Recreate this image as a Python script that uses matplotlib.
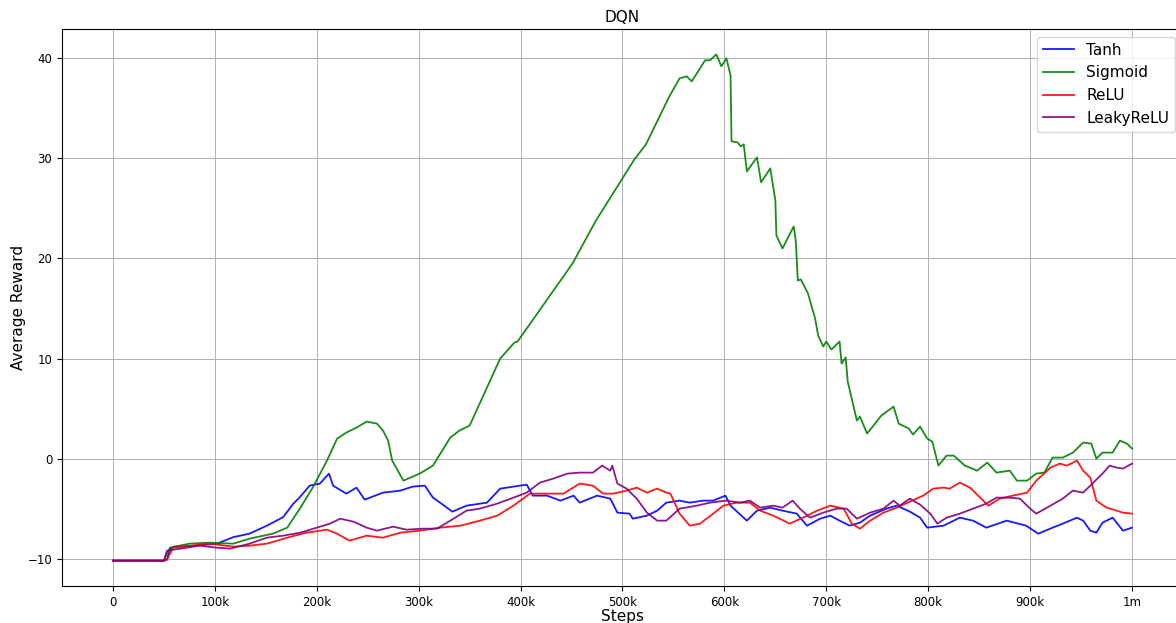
import matplotlib
matplotlib.use("Agg")
import matplotlib.pyplot as plt
import numpy as np

# steps in thousands
tanh_steps = [0, 50, 53, 56, 60, 80, 102, 118, 134, 151, 167, 177, 183, 193, 203, 212, 216, 229, 239, 247,
              265, 282, 294, 306, 314, 321, 333, 347, 367, 380, 393, 406, 412, 426, 439, 452, 458, 475, 488,
              495, 507, 510, 524, 534, 543, 556, 566, 579, 589, 601, 606, 622, 632, 645, 657, 671, 681, 694,
              704, 713, 723, 733, 743, 759, 769, 782, 792, 799, 815, 831, 844, 857, 877, 896, 908, 922, 932,
              946, 952, 959, 965, 971, 981, 991, 1000]
tanh_vals = [-10.2, -10.2, -10.1, -9.0, -8.8, -8.7, -8.5, -7.85, -7.5, -6.7, -5.85, -4.5, -3.9, -2.7, -2.5, -1.5,
             -2.7, -3.5, -2.9, -4.1, -3.4, -3.2, -2.8, -2.7, -3.9, -4.4, -5.3, -4.7, -4.4, -3.0, -2.8, -2.6, -3.7,
             -3.7, -4.2, -3.7, -4.4, -3.7, -4.0, -5.4, -5.5, -6.0, -5.7, -5.2, -4.4, -4.2, -4.4, -4.2, -4.2, -3.7,
             -4.7, -6.2, -5.2, -4.9, -5.2, -5.5, -6.7, -6.0, -5.7, -6.2, -6.7, -6.4, -5.7, -5.0, -4.7, -5.3, -5.9,
             -6.9, -6.7, -5.9, -6.2, -6.9, -6.2, -6.7, -7.5, -6.9, -6.5, -5.9, -6.2, -7.2, -7.4, -6.4, -5.9, -7.2,
             -6.9]

sig_steps = [0, 50, 53, 56, 75, 95, 118, 134, 157, 171, 184, 196, 210, 220, 229, 239, 249, 259, 265, 270, 274,
             285, 301, 314, 331, 340, 350, 380, 394, 397, 451, 474, 500, 511, 523, 546, 556, 563, 568, 581, 586,
             592, 597, 602, 606, 607, 613, 616, 619, 622, 632, 636, 645, 650, 651, 657, 668, 670, 672, 675, 682,
             689, 692, 697, 700, 705, 713, 715, 719, 721, 730, 733, 740, 754, 766, 771, 781, 785, 792, 799, 804,
             810, 818, 825, 836, 848, 858, 867, 880, 887, 897, 906, 914, 922, 932, 942, 952, 960, 965, 971, 981,
             988, 995, 1000]
sig_vals = [-10.2, -10.2, -9.5, -8.9, -8.5, -8.4, -8.5, -8.0, -7.5, -6.9, -4.9, -2.9, -0.2, 2.0, 2.6, 3.1, 3.7,
            3.5, 2.8, 1.8, -0.2, -2.2, -1.5, -0.7, 2.1, 2.8, 3.3, 10.0, 11.6, 11.7, 19.5, 23.8, 28.0, 29.8, 31.4,
            36.2, 38.0, 38.2, 37.7, 39.8, 39.8, 40.4, 39.2, 40.0, 38.3, 31.7, 31.6, 31.2, 31.4, 28.7, 30.1, 27.6,
            29.0, 25.8, 22.3, 21.0, 23.2, 21.8, 17.8, 17.9, 16.5, 14.0, 12.3, 11.2, 11.7, 10.9, 11.7, 9.5, 10.1,
            7.7, 3.8, 4.2, 2.5, 4.3, 5.2, 3.5, 3.0, 2.4, 3.2, 2.0, 1.7, -0.7, 0.3, 0.3, -0.7, -1.2, -0.4, -1.4,
            -1.2, -2.2, -2.2, -1.5, -1.4, 0.1, 0.1, 0.6, 1.6, 1.5, 0.0, 0.6, 0.6, 1.8, 1.5, 1.0]

relu_steps = [0, 50, 53, 59, 95, 118, 134, 151, 171, 190, 210, 220, 232, 249, 265, 282, 301, 321, 341, 360, 377,
              393, 409, 426, 442, 458, 471, 481, 491, 504, 514, 524, 534, 543, 547, 556, 566, 576, 589, 599, 612,
              625, 635, 648, 664, 677, 691, 704, 717, 725, 733, 743, 756, 769, 782, 795, 805, 815, 821, 831, 841,
              851, 859, 870, 883, 897, 906, 920, 929, 936, 946, 952, 959, 965, 975, 985, 991, 1000]
relu_vals = [-10.2, -10.2, -10.1, -8.9, -8.5, -8.8, -8.7, -8.5, -7.9, -7.4, -7.1, -7.5, -8.2, -7.7, -7.9, -7.4,
             -7.2, -6.9, -6.7, -6.2, -5.7, -4.7, -3.5, -3.5, -3.5, -2.5, -2.7, -3.5, -3.5, -3.2, -2.9, -3.4, -3.0,
             -3.4, -3.5, -5.5, -6.7, -6.5, -5.5, -4.7, -4.4, -4.4, -5.2, -5.7, -6.5, -5.9, -5.2, -4.7, -5.0, -6.5,
             -7.0, -6.2, -5.4, -4.9, -4.3, -3.7, -3.0, -2.9, -3.0, -2.4, -2.9, -3.9, -4.7, -4.0, -3.7, -3.4, -2.2,
             -0.9, -0.5, -0.7, -0.2, -1.2, -1.9, -4.2, -4.9, -5.2, -5.4, -5.5]

leaky_steps = [0, 50, 53, 85, 102, 115, 134, 151, 167, 184, 200, 213, 223, 236, 249, 259, 275, 288, 304, 318,
               331, 347, 360, 377, 393, 406, 419, 432, 446, 458, 471, 480, 488, 490, 495, 504, 514, 524, 534, 543,
               556, 573, 586, 602, 615, 625, 635, 648, 657, 667, 674, 684, 697, 710, 720, 730, 743, 756, 766, 772,
               782, 792, 802, 809, 818, 831, 844, 857, 867, 880, 890, 900, 906, 920, 932, 942, 952, 962, 971, 978,
               985, 991, 1000]
leaky_vals = [-10.2, -10.2, -9.2, -8.7, -8.9, -9.0, -8.5, -7.9, -7.7, -7.4, -6.9, -6.5, -6.0, -6.3, -6.9, -7.2,
              -6.8, -7.1, -7.0, -7.0, -6.2, -5.2, -5.0, -4.5, -3.9, -3.4, -2.4, -2.0, -1.5, -1.4, -1.4, -0.7, -1.2,
              -0.7, -2.5, -3.0, -4.0, -5.4, -6.2, -6.2, -5.0, -4.7, -4.4, -4.2, -4.4, -4.2, -4.9, -4.7, -4.9, -4.2,
              -5.0, -5.9, -5.4, -5.0, -5.0, -6.0, -5.4, -5.0, -4.2, -4.7, -4.0, -4.6, -5.5, -6.5, -5.9, -5.5, -5.0,
              -4.5, -3.9, -3.9, -4.0, -5.0, -5.5, -4.7, -4.0, -3.2, -3.4, -2.4, -1.5, -0.7, -0.9, -1.0, -0.5]

tick_steps = [0, 100, 200, 300, 400, 500, 600, 700, 800, 900, 1000]
tick_labels = ['0', '100k', '200k', '300k', '400k', '500k', '600k', '700k', '800k', '900k', '1m']

fig = plt.figure(figsize=(11.76, 6.23), dpi=100)
ax = fig.add_axes([62 / 1176, 37 / 623, 1121 / 1176, 557 / 623])

series = [
    (tanh_steps, tanh_vals, 'Tanh', 'blue'),
    (sig_steps, sig_vals, 'Sigmoid', 'green'),
    (relu_steps, relu_vals, 'ReLU', 'red'),
    (leaky_steps, leaky_vals, 'LeakyReLU', 'purple'),
]
for steps, vals, name, col in series:
    ax.plot(np.array(steps) * 1000, vals, color=col, label=name, linewidth=1.3, alpha=0.9)

ax.set_xticks(np.array(tick_steps) * 1000)
ax.set_xticklabels(tick_labels)
ax.set_xlim(-50000, 1050000)
ax.set_yticks([-10, 0, 10, 20, 30, 40])
ax.tick_params(labelsize=8.5)
ax.grid(True, linewidth=0.7)
ax.set_title('DQN', fontsize=11, pad=5)
ax.set_xlabel('Steps', fontsize=11, labelpad=0)
ax.set_ylabel('Average Reward', fontsize=11, labelpad=1)
ax.legend(loc='upper right', fontsize=11)

fig.savefig('out.png', dpi=100)
